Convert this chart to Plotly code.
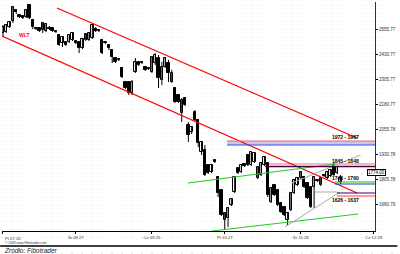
import plotly.graph_objects as go

# ---- candle data (price units) ----
opens  = [2535,2540,2565,2595,2650,2625,2620,2615,2675,2600,2560,2560,2550,2545,2560,2560,2545,2525,2485,2490,
          2490,2500,2495,2490,2460,2500,2500,2510,2555,2550,2500,2490,2475,2450,2410,2405,2360,2290,2290,2235,
          2340,2390,2390,2365,2360,2340,2385,2410,2300,2365,2385,2290,2260,2225,2135,2210,2075,2040,2140,2100,
          1940,1950,1875,1840,1900,1815,1750,1600,1610,1675,1740,1860,1840,1880,1925,1875,1890,1810,1825,1875,
          1885,1690,1775,1750,1685,1665,1600,1650,1735,1775,1810,1815,1785,1765,1765,1800,1775,1825,1810,1820,
          1870,1835,1790]
highs  = [2575,2580,2595,2670,2655,2630,2625,2655,2680,2605,2565,2565,2590,2585,2570,2565,2550,2530,2520,2495,
          2530,2540,2500,2495,2510,2535,2540,2580,2565,2555,2505,2495,2480,2455,2415,2410,2365,2295,2295,2300,
          2410,2395,2395,2370,2365,2420,2435,2425,2390,2415,2400,2350,2265,2230,2210,2215,2090,2070,2150,2105,
          1995,1975,1880,1880,1905,1820,1755,1640,1665,1710,1820,1865,1880,1885,1930,1945,1940,1870,1890,1920,
          1890,1765,1780,1755,1690,1670,1640,1740,1805,1815,1845,1820,1790,1770,1820,1805,1815,1830,1845,1855,
          1885,1870,1825]
lows   = [2515,2535,2560,2585,2630,2610,2605,2610,2605,2555,2550,2540,2535,2540,2550,2540,2535,2470,2465,2470,
          2485,2495,2480,2435,2455,2495,2495,2505,2540,2540,2430,2480,2450,2385,2385,2395,2310,2255,2225,2225,
          2335,2370,2380,2345,2350,2335,2375,2260,2275,2360,2290,2285,2185,2185,2090,2170,1990,2030,2095,1965,
          1925,1820,1830,1835,1885,1715,1620,1550,1565,1670,1735,1830,1835,1865,1870,1870,1885,1805,1820,1870,
          1715,1685,1720,1670,1635,1620,1575,1645,1730,1770,1805,1760,1705,1660,1660,1790,1770,1815,1805,1815,
          1820,1830,1780]
closes = [2565,2575,2590,2665,2640,2615,2610,2650,2610,2565,2555,2545,2585,2580,2555,2545,2540,2475,2515,2475,
          2525,2535,2485,2460,2505,2530,2535,2575,2545,2545,2435,2485,2460,2415,2390,2400,2315,2260,2235,2290,
          2390,2375,2385,2350,2355,2415,2425,2310,2365,2410,2335,2335,2190,2190,2200,2175,2025,2065,2100,1985,
          1990,1825,1835,1875,1890,1735,1625,1635,1660,1705,1815,1835,1875,1870,1875,1940,1935,1865,1885,1915,
          1725,1760,1725,1675,1640,1625,1635,1735,1800,1810,1840,1765,1710,1665,1815,1795,1810,1820,1840,1850,
          1825,1865,1810]
idx = list(range(len(opens)))

# ---- axes ----
x_tick_pos = [0, 22, 45, 67, 90, 112]
x_tick_labels = ["Pt 07.26", "Śr 08.27", "Cz 09.25", "Pt 10.27", "Śr 11.28", "Cz 12.29"]
y_tick_vals = [2555, 2430, 2305, 2180, 2055, 1930, 1805, 1680]
y_tick_labels = ["2555.77", "2430.77", "2305.77", "2180.77", "2055.78", "1930.78", "1805.78", "1680.79"]

# ---- drawn analysis lines (start idx, start price, end idx, end price) ----
red_upper = [16.3, 2660, 107.0, 2010]
red_lower = [-0.3, 2520, 107.0, 1735]
green_upper = [55.9, 1785, 100.3, 1880]
green_lower = [63.1, 1545, 107.3, 1630]
gray_upper = [87.3, 1785, 108.0, 1925]
gray_lower = [85.2, 1565, 101.8, 1740]
gray_flat = [94.3, 1740, 101.0, 1740]

# fib zones: (start idx, level prices)
fib_zone1 = [67.7, 1995, 1975]
fib_zone2 = [79.2, 1885, 1867]
fib_zone3 = [100.3, 1790, 1780]
fib_zone4 = [100.9, 1735, 1720]
fib_labels = ["1972 - 1987", "1845 - 1848", "1743 - 1760", "1626 - 1637"]
fib_label_prices = [2015, 1895, 1810, 1700]
last_price_label = "1774.00"

XMAX = 112.4
fig = go.Figure()

# dotted background lattice
for k in range(0, 41):
    px = 2 + k * 10
    fig.add_shape(type="line", xref="paper", yref="paper",
                  x0=(px - 2) / 373, x1=(px - 2) / 373, y0=-0.1, y1=1.01,
                  line=dict(color="#cfcfe0", width=1, dash="1px,7px"), layer="below")

# wicks
wx, wy = [], []
for i in idx:
    wx += [i, i, None]
    wy += [lows[i], highs[i], None]
fig.add_trace(go.Scatter(x=wx, y=wy, mode="lines", line=dict(color="black", width=1), hoverinfo="skip"))

inc = [i for i in idx if closes[i] >= opens[i]]
dec = [i for i in idx if closes[i] < opens[i]]
fig.add_trace(go.Bar(x=inc, y=[max(closes[i] - opens[i], 4) for i in inc], base=[opens[i] for i in inc],
                     width=0.72, marker=dict(color="white", line=dict(color="black", width=1))))
fig.add_trace(go.Bar(x=dec, y=[max(opens[i] - closes[i], 4) for i in dec], base=[closes[i] for i in dec],
                     width=0.72, marker=dict(color="black", line=dict(color="black", width=1))))

def seg(p, color, width=1.2):
    fig.add_trace(go.Scatter(x=[p[0], p[2]], y=[p[1], p[3]], mode="lines",
                             line=dict(color=color, width=width), hoverinfo="skip"))

seg(red_upper, "#ff0000", 1.3)
seg(red_lower, "#ff0000", 1.3)
seg(green_upper, "#22cc22", 1)
seg(green_lower, "#22cc22", 1)
seg(gray_upper, "#aaaaaa", 1)
seg(gray_lower, "#aaaaaa", 1)
seg(gray_flat, "#aaaaaa", 1)

# fib zones
fig.add_shape(type="rect", x0=fib_zone1[0], x1=XMAX, y0=fib_zone1[2], y1=fib_zone1[1],
              fillcolor="#c8c8e8", line=dict(width=0), layer="below")
fig.add_shape(type="line", x0=fib_zone1[0], x1=XMAX, y0=fib_zone1[1], y1=fib_zone1[1], line=dict(color="#ff6060", width=1.2))
fig.add_shape(type="line", x0=fib_zone1[0], x1=XMAX, y0=fib_zone1[2], y1=fib_zone1[2], line=dict(color="#3050ff", width=1.2))
fig.add_shape(type="rect", x0=fib_zone2[0], x1=XMAX, y0=fib_zone2[2], y1=fib_zone2[1],
              fillcolor="#f4b8c0", line=dict(width=0), layer="below")
fig.add_shape(type="line", x0=fib_zone2[0], x1=XMAX, y0=fib_zone2[2], y1=fib_zone2[2], line=dict(color="#400040", width=1.2))
fig.add_shape(type="line", x0=fib_zone3[0], x1=XMAX, y0=fib_zone3[1], y1=fib_zone3[1], line=dict(color="#22bb22", width=1.2))
fig.add_shape(type="line", x0=fib_zone3[0], x1=XMAX, y0=fib_zone3[2], y1=fib_zone3[2], line=dict(color="#2040c0", width=1.2))
fig.add_shape(type="line", x0=fib_zone4[0], x1=XMAX, y0=fib_zone4[1], y1=fib_zone4[1], line=dict(color="#400060", width=1.2))
fig.add_shape(type="line", x0=fib_zone4[0], x1=XMAX, y0=fib_zone4[2], y1=fib_zone4[2], line=dict(color="#ff4040", width=1.2))

for lab, pr in zip(fib_labels, fib_label_prices):
    fig.add_annotation(x=103.6, y=pr, text="<b>%s</b>" % lab, showarrow=False,
                       font=dict(family="Arial", size=5, color="black"))

fig.add_annotation(x=6.2, y=2525, text="<b>WLT</b>", showarrow=False,
                   font=dict(family="Arial", size=5, color="#ff0000"))

fig.add_annotation(xref="paper", yref="paper", x=1.029, y=0.24, text=last_price_label, showarrow=False,
                   font=dict(family="Arial", size=4.5, color="black"), bgcolor="white",
                   bordercolor="black", borderwidth=1, borderpad=0)

# first date label (left-aligned so it is not clipped)
fig.add_annotation(xref="x", yref="paper", x=x_tick_pos[0], y=-0.011, xanchor="left", yanchor="top",
                   text=x_tick_labels[0], showarrow=False,
                   font=dict(family="Arial", size=4.2, color="#333"))

fig.add_annotation(xref="paper", yref="paper", x=0.003, y=-0.054, xanchor="left", yanchor="middle",
                   text="© 2009 www.Fibotrader.com",
                   showarrow=False, font=dict(family="Arial", size=3.3, color="#333"))
fig.add_shape(type="line", xref="paper", yref="paper", x0=-0.005, x1=1.06, y0=-0.066, y1=-0.066,
              line=dict(color="black", width=1.5))
fig.add_annotation(xref="paper", yref="paper", x=0.0, y=-0.083, xanchor="left", yanchor="middle",
                   text="<i>Źródło: Fibotrader</i>", showarrow=False,
                   font=dict(family="Arial", size=6.5, color="#222"))

fig.update_layout(
    width=400, height=254, margin=dict(l=2, r=25, t=2, b=23),
    paper_bgcolor="white", plot_bgcolor="rgba(0,0,0,0)", showlegend=False, bargap=0,
    xaxis=dict(range=[-0.3, XMAX], showgrid=False, zeroline=False, showline=True, linecolor="black",
               linewidth=1, ticks="outside", ticklen=2, tickcolor="black", tickvals=x_tick_pos,
               ticktext=[""] + x_tick_labels[1:], tickfont=dict(family="Arial", size=4.2, color="#333")),
    yaxis=dict(range=[1545, 2690], side="right", showgrid=False, zeroline=False, showline=True,
               linecolor="#333", linewidth=1, ticks="outside", ticklen=2, tickcolor="black",
               tickvals=y_tick_vals, ticktext=y_tick_labels,
               tickfont=dict(family="Arial", size=4.5, color="#333")),
)
fig.write_html("out.html")
